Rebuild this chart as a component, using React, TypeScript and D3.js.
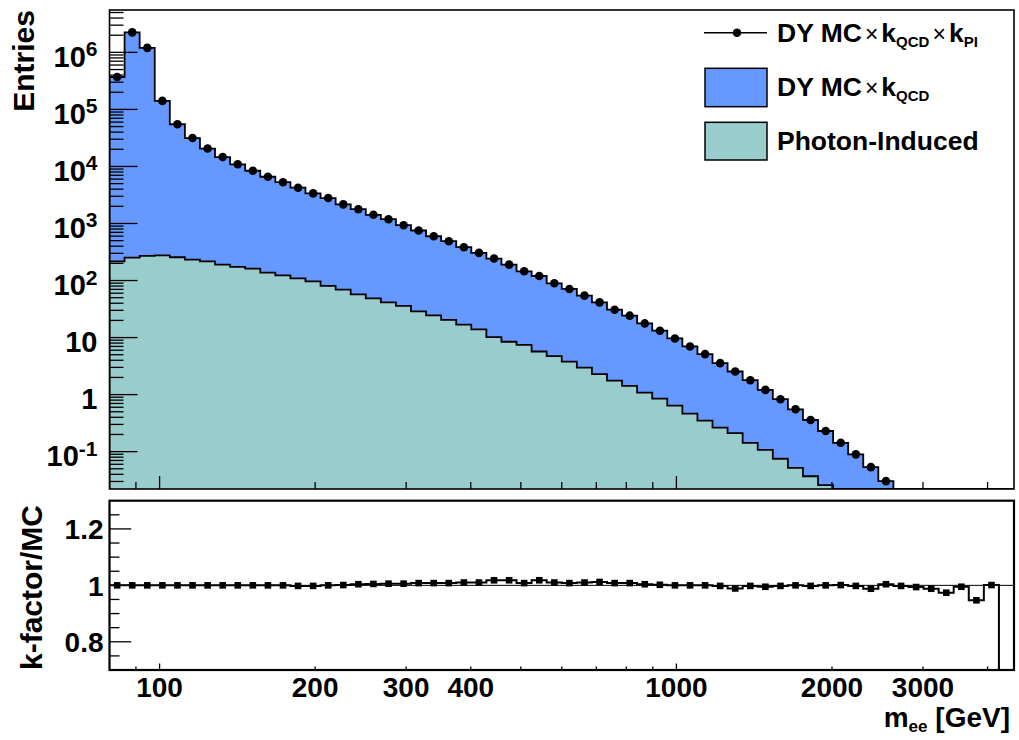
import { useEffect, useRef } from "react";
import * as d3 from "d3";

// m_ee binning: 60 log-spaced bins
const mLow = 80;
const mHigh = 4500;
const nBins = 60;

// DY MC x kQCD (blue histogram, points sit on its top)
const dyQcd = [
  3.7e5, 2.24e6, 1.2e6, 1.41e5, 5.5e4, 3.15e4, 2.06e4, 1.46e4, 1.09e4, 8400,
  6600, 5300, 4240, 3370, 2790, 2160, 1780, 1420, 1190, 934,
  753, 598, 489, 384, 305, 243, 190, 145, 120, 89.4,
  71.2, 54.3, 41.4, 30.8, 24.2, 17.7, 13.2, 9.65, 6.98, 5.13,
  3.56, 2.54, 1.79, 1.21, 0.83, 0.553, 0.359, 0.23, 0.143, 0.0896,
  0.0535, 0.0304, 0, 0, 0, 0, 0, 0, 0, 0,
];

// Photon-induced (teal histogram)
const photonInduced = [
  217, 252, 270, 277, 256, 233, 217, 190, 173, 162,
  138, 123, 109, 96.9, 80.4, 69.2, 57.3, 48.7, 41.4, 35.8,
  28.8, 24.5, 20.4, 16.9, 13.9, 10.2, 8.44, 7.47, 5.7, 4.73,
  3.8, 2.98, 2.28, 1.76, 1.42, 1.08, 0.851, 0.641, 0.464, 0.349,
  0.263, 0.212, 0.143, 0.107, 0.075, 0.052, 0.037, 0.0259, 0, 0,
  0, 0, 0, 0, 0, 0, 0, 0, 0, 0,
];

// k-factor / MC ratio
const kRatio = [
  1.0, 1.0, 1.0, 1.0, 1.0, 1.0, 1.0, 1.0, 1.0, 1.0,
  1.0, 1.0, 0.998, 0.998, 1.0, 1.001, 1.004, 1.005, 1.006, 1.006,
  1.008, 1.008, 1.008, 1.01, 1.01, 1.018, 1.018, 1.008, 1.018, 1.01,
  1.008, 1.01, 1.012, 1.008, 1.008, 1.004, 1.002, 1.0, 1.0, 1.0,
  0.998, 0.989, 0.998, 0.995, 0.998, 1.0, 0.998, 1.0, 1.001, 0.998,
  0.988, 1.004, 0.998, 0.994, 0.988, 0.974, 0.995, 0.947, 1.001, 0,
];

const xTickLabels = [100, 200, 300, 400, 1000, 2000, 3000];
const xMajorTicks = [100, 1000];
const xMinorTicks = [90, 200, 300, 400, 500, 600, 700, 800, 900, 2000, 3000, 4000];
const yTopExponents = [-1, 0, 1, 2, 3, 4, 5, 6];
const yRatioLabels = [0.8, 1, 1.2];

const font = "'Liberation Sans', Arial, Helvetica, sans-serif";
const blueFill = "#6699ff";
const tealFill = "#99cccc";

const App = () => {
  const svgRef = useRef<SVGSVGElement>(null);

  useEffect(() => {
    if (!svgRef.current) return;
    const svg = d3.select(svgRef.current);
    svg.selectAll("*").remove();

    const left = 109.5;
    const right = 1014;
    const topY0 = 10;
    const topY1 = 489;
    const botY0 = 500.7;
    const botY1 = 670;

    const edges = d3.range(nBins + 1).map((i) => mLow * Math.pow(mHigh / mLow, i / nBins));
    const x = d3.scaleLog().domain([mLow, mHigh]).range([left, right]);
    const yMin = Math.pow(10, -1.655);
    const yTop = d3.scaleLog().domain([yMin, Math.pow(10, 6.743)]).range([topY1, topY0]);
    const yRat = d3.scaleLinear().domain([0.7, 1.3]).range([botY1, botY0]);

    const yTopF = (v: number) => (v > yMin ? yTop(v) : topY1);
    const yRatF = (v: number) => (v > 0.7 ? yRat(v) : botY1);

    const stepPts = (vals: number[], yf: (v: number) => number) => {
      const pts: [number, number][] = [];
      vals.forEach((v, i) => {
        const yy = yf(v);
        pts.push([x(edges[i]), yy], [x(edges[i + 1]), yy]);
      });
      return pts;
    };
    const line = d3.line();

    const defs = svg.append("defs");
    defs.append("clipPath").attr("id", "clipTop")
      .append("rect").attr("x", left).attr("y", topY0).attr("width", right - left).attr("height", topY1 - topY0);
    defs.append("clipPath").attr("id", "clipBot")
      .append("rect").attr("x", left).attr("y", botY0).attr("width", right - left).attr("height", botY1 - botY0);

    // ---------- top panel
    const gTop = svg.append("g").attr("clip-path", "url(#clipTop)");

    const drawHist = (vals: number[], fill: string) => {
      const pts = stepPts(vals, yTopF);
      const area: [number, number][] = [[x(edges[0]), topY1], ...pts, [x(edges[nBins]), topY1]];
      gTop.append("path").attr("d", line(area) + "Z").attr("fill", fill).attr("stroke", "none");
      gTop.append("path").attr("d", line(area)).attr("fill", "none")
        .attr("stroke", "#000").attr("stroke-width", 1.8);
    };
    drawHist(dyQcd, blueFill);
    drawHist(photonInduced, tealFill);

    gTop.selectAll("circle.pt")
      .data(dyQcd.map((v, i) => ({ v, c: (edges[i] + edges[i + 1]) / 2 })).filter((d) => d.v > yMin))
      .join("circle")
      .attr("class", "pt")
      .attr("cx", (d) => x(d.c))
      .attr("cy", (d) => yTop(d.v))
      .attr("r", 4.3)
      .attr("fill", "#000");

    // top panel ticks
    const tickG = svg.append("g").attr("stroke", "#000").attr("stroke-width", 1.3);
    for (let e = -2; e <= 6; e++) {
      for (let k = 1; k <= 9; k++) {
        const v = k * Math.pow(10, e);
        if (v < yMin || v > yTop.domain()[1]) continue;
        const len = k === 1 ? 28 : 14;
        tickG.append("line").attr("x1", left).attr("x2", left + len)
          .attr("y1", yTop(v)).attr("y2", yTop(v));
      }
    }
    xMinorTicks.forEach((t) => {
      tickG.append("line").attr("x1", x(t)).attr("x2", x(t)).attr("y1", topY1).attr("y2", topY1 - 7);
    });
    xMajorTicks.forEach((t) => {
      tickG.append("line").attr("x1", x(t)).attr("x2", x(t)).attr("y1", topY1).attr("y2", topY1 - 13);
    });

    svg.append("rect").attr("x", left).attr("y", topY0).attr("width", right - left).attr("height", topY1 - topY0)
      .attr("fill", "none").attr("stroke", "#000").attr("stroke-width", 1.6);

    // y tick labels (top)
    const labG = svg.append("g").attr("font-family", font).attr("font-weight", "bold").attr("fill", "#000");
    yTopExponents.forEach((e) => {
      const t = labG.append("text").attr("x", 97.5).attr("y", yTop(Math.pow(10, e)) + 14.5)
        .attr("text-anchor", "end").attr("font-size", 29);
      if (e === 0) t.text("1");
      else if (e === 1) t.text("10");
      else {
        t.append("tspan").text("10");
        t.append("tspan").attr("font-size", 21).attr("dy", -10.5).text(String(e));
      }
    });

    labG.append("text")
      .attr("transform", `translate(33.5,${topY0}) rotate(-90)`)
      .attr("text-anchor", "end").attr("font-size", 30).text("Entries");

    // legend
    const leg = svg.append("g").attr("font-family", font).attr("font-weight", "bold");
    leg.append("line").attr("x1", 704).attr("x2", 767).attr("y1", 32.7).attr("y2", 32.7)
      .attr("stroke", "#000").attr("stroke-width", 1.5);
    leg.append("circle").attr("cx", 737).attr("cy", 32.7).attr("r", 4.3).attr("fill", "#000");
    leg.append("rect").attr("x", 705).attr("y", 68.3).attr("width", 62).attr("height", 38.4)
      .attr("fill", blueFill).attr("stroke", "#000").attr("stroke-width", 1.5);
    leg.append("rect").attr("x", 705).attr("y", 122.3).attr("width", 62).attr("height", 37.7)
      .attr("fill", tealFill).attr("stroke", "#000").attr("stroke-width", 1.5);

    const legLabel = (yb: number, parts: [string, string][]) => {
      const t = leg.append("text").attr("x", 777).attr("y", yb).attr("font-size", 26.5);
      let shift = 0;
      parts.forEach(([kind, s]) => {
        const sp = t.append("tspan");
        if (kind === "sub") {
          sp.attr("font-size", 15).attr("dy", 5 - shift);
          shift = 5;
        } else if (kind === "x") {
          sp.attr("font-size", 23).attr("font-weight", "normal").attr("dy", -shift)
            .attr("dx", 3);
          shift = 0;
        } else {
          sp.attr("dy", -shift);
          if (s === "k") sp.attr("dx", 3);
          shift = 0;
        }
        sp.text(s);
      });
    };
    legLabel(41.5, [["n", "DY MC"], ["x", "\u00d7"], ["n", "k"], ["sub", "QCD"], ["x", "\u00d7"], ["n", "k"], ["sub", "PI"]]);
    legLabel(96, [["n", "DY MC"], ["x", "\u00d7"], ["n", "k"], ["sub", "QCD"]]);
    legLabel(150, [["n", "Photon-Induced"]]);

    // ---------- ratio panel
    const gBot = svg.append("g").attr("clip-path", "url(#clipBot)");
    gBot.append("line").attr("x1", left).attr("x2", right).attr("y1", yRat(1)).attr("y2", yRat(1))
      .attr("stroke", "#000").attr("stroke-width", 1);
    const rPts = stepPts(kRatio, yRatF);
    gBot.append("path").attr("d", line(rPts)).attr("fill", "none")
      .attr("stroke", "#000").attr("stroke-width", 2);
    gBot.selectAll("rect.sq")
      .data(kRatio.map((v, i) => ({ v, c: (edges[i] + edges[i + 1]) / 2 })).filter((d) => d.v > 0.7))
      .join("rect")
      .attr("class", "sq")
      .attr("x", (d) => x(d.c) - 3.3)
      .attr("y", (d) => yRat(d.v) - 3.3)
      .attr("width", 6.6)
      .attr("height", 6.6)
      .attr("fill", "#000");

    const tickB = svg.append("g").attr("stroke", "#000").attr("stroke-width", 1.3);
    d3.range(0.75, 1.2501, 0.05).forEach((v) => {
      const major = Math.abs(v - 0.8) < 1e-6 || Math.abs(v - 1) < 1e-6 || Math.abs(v - 1.2) < 1e-6;
      tickB.append("line").attr("x1", left).attr("x2", left + (major ? 21.7 : 10))
        .attr("y1", yRat(v)).attr("y2", yRat(v));
    });
    xMinorTicks.forEach((t) => {
      tickB.append("line").attr("x1", x(t)).attr("x2", x(t)).attr("y1", botY1).attr("y2", botY1 - 3.5);
    });
    xMajorTicks.forEach((t) => {
      tickB.append("line").attr("x1", x(t)).attr("x2", x(t)).attr("y1", botY1).attr("y2", botY1 - 6.5);
    });

    svg.append("rect").attr("x", left).attr("y", botY0).attr("width", right - left).attr("height", botY1 - botY0)
      .attr("fill", "none").attr("stroke", "#000").attr("stroke-width", 2.2);

    yRatioLabels.forEach((v) => {
      labG.append("text").attr("x", 103.5).attr("y", yRat(v) + 10.5)
        .attr("text-anchor", "end").attr("font-size", 28).text(String(v));
    });
    xTickLabels.forEach((v) => {
      labG.append("text").attr("x", x(v)).attr("y", 697)
        .attr("text-anchor", "middle").attr("font-size", 28).text(String(v));
    });

    labG.append("text")
      .attr("transform", `translate(41.5,505) rotate(-90)`)
      .attr("text-anchor", "end").attr("font-size", 30).text("k-factor/MC");

    const xt = labG.append("text").attr("x", 1010).attr("y", 727)
      .attr("text-anchor", "end").attr("font-size", 28);
    xt.append("tspan").text("m");
    xt.append("tspan").attr("font-size", 17).attr("dy", 5).text("ee");
    xt.append("tspan").attr("dy", -5).text(" [GeV]");
  }, []);

  return (
    <svg
      ref={svgRef}
      width={1019}
      height={740}
      style={{ position: "absolute", left: 0, top: 0, background: "#fff" }}
    />
  );
};

export default App;
